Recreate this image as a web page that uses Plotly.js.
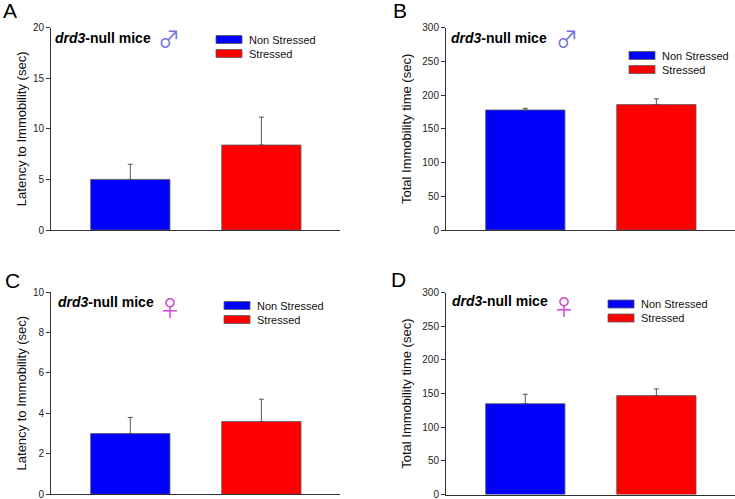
<!DOCTYPE html>
<html>
<head>
<meta charset="utf-8">
<script src="https://cdn.plot.ly/plotly-3.0.1.min.js"></script>
<style>html,body{margin:0;padding:0;background:#fff;}#chart{width:735px;height:499px;}</style>
</head>
<body>
<div id="chart"></div>
<script>
// ---- data ----
const groups = ['Non Stressed', 'Stressed'];
const groupColors = ['#0000ff', '#ff0000'];

const latencyMale = [5.0, 8.4];
const latencyMaleErr = [1.5, 2.75];
const totalMale = [178, 186];
const totalMaleErr = [2.5, 8.5];
const latencyFemale = [3.0, 3.6];
const latencyFemaleErr = [0.8, 1.1];
const totalFemale = [135, 147];
const totalFemaleErr = [14, 10];

const panelLetters = ['A', 'B', 'C', 'D'];
const yTitles = ['Latency to Immobility (sec)', 'Total Immobility time (sec)',
                 'Latency to Immobility (sec)', 'Total Immobility time (sec)'];
const yRanges = [[0, 20], [0, 300], [0, 10], [0, 300]];
const yDticks = [5, 50, 2, 50];
const sexSymbols = ['♂', '♂', '♀', '♀'];
const sexColors = ['#7373e0', '#7373e0', '#d24bd2', '#d24bd2'];

// ---- build ----
const panels = [
  {vals: latencyMale, errs: latencyMaleErr},
  {vals: totalMale, errs: totalMaleErr},
  {vals: latencyFemale, errs: latencyFemaleErr},
  {vals: totalFemale, errs: totalFemaleErr}
];

const W = 735, H = 499;
const px = v => v / W;
const py = v => 1 - v / H;

const xDomains = [[px(51), px(340)], [px(446), 1], [px(51), px(340)], [px(446), 1]];
const yDomains = [[py(230), py(27.7)], [py(230), py(27.7)], [py(494.3), py(292)], [py(494.5), py(292.7)]];
const legendPos = [[209, 25], [622, 41], [217, 291], [601, 289.5]];
const titlePos = [[53, 37.5], [449, 37.5], [56, 302], [450, 300.5]];
const symPos = [[156, 37], [554, 37], [157, 306], [551, 305]];
const letterPos = [[1, 10], [391, 10], [3, 280], [389, 279]];
const standoffs = [3, 7.5, 3, 7.5];

const traces = [];
const layout = {
  width: W, height: H,
  margin: {l: 0, r: 0, t: 0, b: 0},
  paper_bgcolor: '#fff', plot_bgcolor: '#fff',
  font: {family: 'Liberation Sans, Arial, sans-serif', color: '#222'},
  barmode: 'overlay',
  showlegend: true,
  annotations: []
};

panels.forEach((p, i) => {
  const n = i === 0 ? '' : String(i + 1);
  const legId = 'legend' + n;
  groups.forEach((g, j) => {
    traces.push({
      type: 'bar',
      x: [g], y: [p.vals[j]],
      name: g,
      width: 0.605,
      xaxis: 'x' + n, yaxis: 'y' + n,
      legend: legId,
      marker: {color: groupColors[j], line: {color: '#5a5a5a', width: 0.8}},
      error_y: {type: 'data', symmetric: false, array: [p.errs[j]], arrayminus: [0],
                color: '#555', thickness: 1, width: 2.5},
      hoverinfo: 'none'
    });
  });
  layout['xaxis' + n] = {
    domain: xDomains[i], anchor: 'y' + n,
    type: 'category', categoryarray: groups,
    range: [-0.605, 1.6],
    showline: true, linecolor: '#333', linewidth: 1,
    ticks: '', showticklabels: false, showgrid: false, zeroline: false, fixedrange: true
  };
  layout['yaxis' + n] = {
    domain: yDomains[i], anchor: 'x' + n,
    range: yRanges[i], dtick: yDticks[i], tick0: 0,
    showline: true, linecolor: '#333', linewidth: 1,
    ticks: 'outside', ticklen: 4, tickcolor: '#333', tickwidth: 1,
    tickfont: {size: 10, color: '#222'}, ticklabeloverflow: 'allow',
    showgrid: false, zeroline: false, fixedrange: true,
    title: {text: yTitles[i], font: {size: 13, color: '#111'}, standoff: standoffs[i]}
  };
  layout[legId] = {
    x: px(legendPos[i][0]), y: py(legendPos[i][1]),
    xref: 'paper', yref: 'paper', xanchor: 'left', yanchor: 'top',
    bgcolor: 'rgba(0,0,0,0)', borderwidth: 0,
    font: {size: 11, color: '#111'}
  };
  layout.annotations.push({
    xref: 'paper', yref: 'paper', x: px(titlePos[i][0]), y: py(titlePos[i][1]),
    xanchor: 'left', yanchor: 'middle', showarrow: false,
    text: '<b><i>drd3</i>-null mice</b>', font: {size: 14, color: '#000'}
  });
  layout.annotations.push({
    xref: 'paper', yref: 'paper', x: px(symPos[i][0]), y: py(symPos[i][1]),
    xanchor: 'left', yanchor: 'middle', showarrow: false,
    text: sexSymbols[i], font: {size: 22, color: sexColors[i], family: 'Noto Sans CJK JP'}
  });
  layout.annotations.push({
    xref: 'paper', yref: 'paper', x: px(letterPos[i][0]), y: py(letterPos[i][1]),
    xanchor: 'left', yanchor: 'middle', showarrow: false,
    text: panelLetters[i], font: {size: 21, color: '#000'}
  });
});

Plotly.newPlot('chart', traces, layout, {staticPlot: true, displayModeBar: false}).then(gd => {
  // wide legend swatches and tighter item spacing like the original figure
  gd.querySelectorAll('.legendpoints path').forEach(p => p.setAttribute('d', 'M-13,4H13V-4H-13Z'));
  const parents = new Set();
  gd.querySelectorAll('g.traces').forEach(t => parents.add(t.parentNode));
  parents.forEach(par => {
    const items = Array.from(par.querySelectorAll(':scope > g.traces'));
    if (items.length < 2) return;
    const m = /translate\(\s*([-\d.e]+)[ ,]+([-\d.e]+)\s*\)/.exec(items[0].getAttribute('transform') || '');
    if (!m) return;
    const x0 = parseFloat(m[1]), y0 = parseFloat(m[2]);
    items.forEach((it, k) => it.setAttribute('transform', 'translate(' + x0 + ',' + (y0 + 14 * k) + ')'));
  });
});
</script>
</body>
</html>
